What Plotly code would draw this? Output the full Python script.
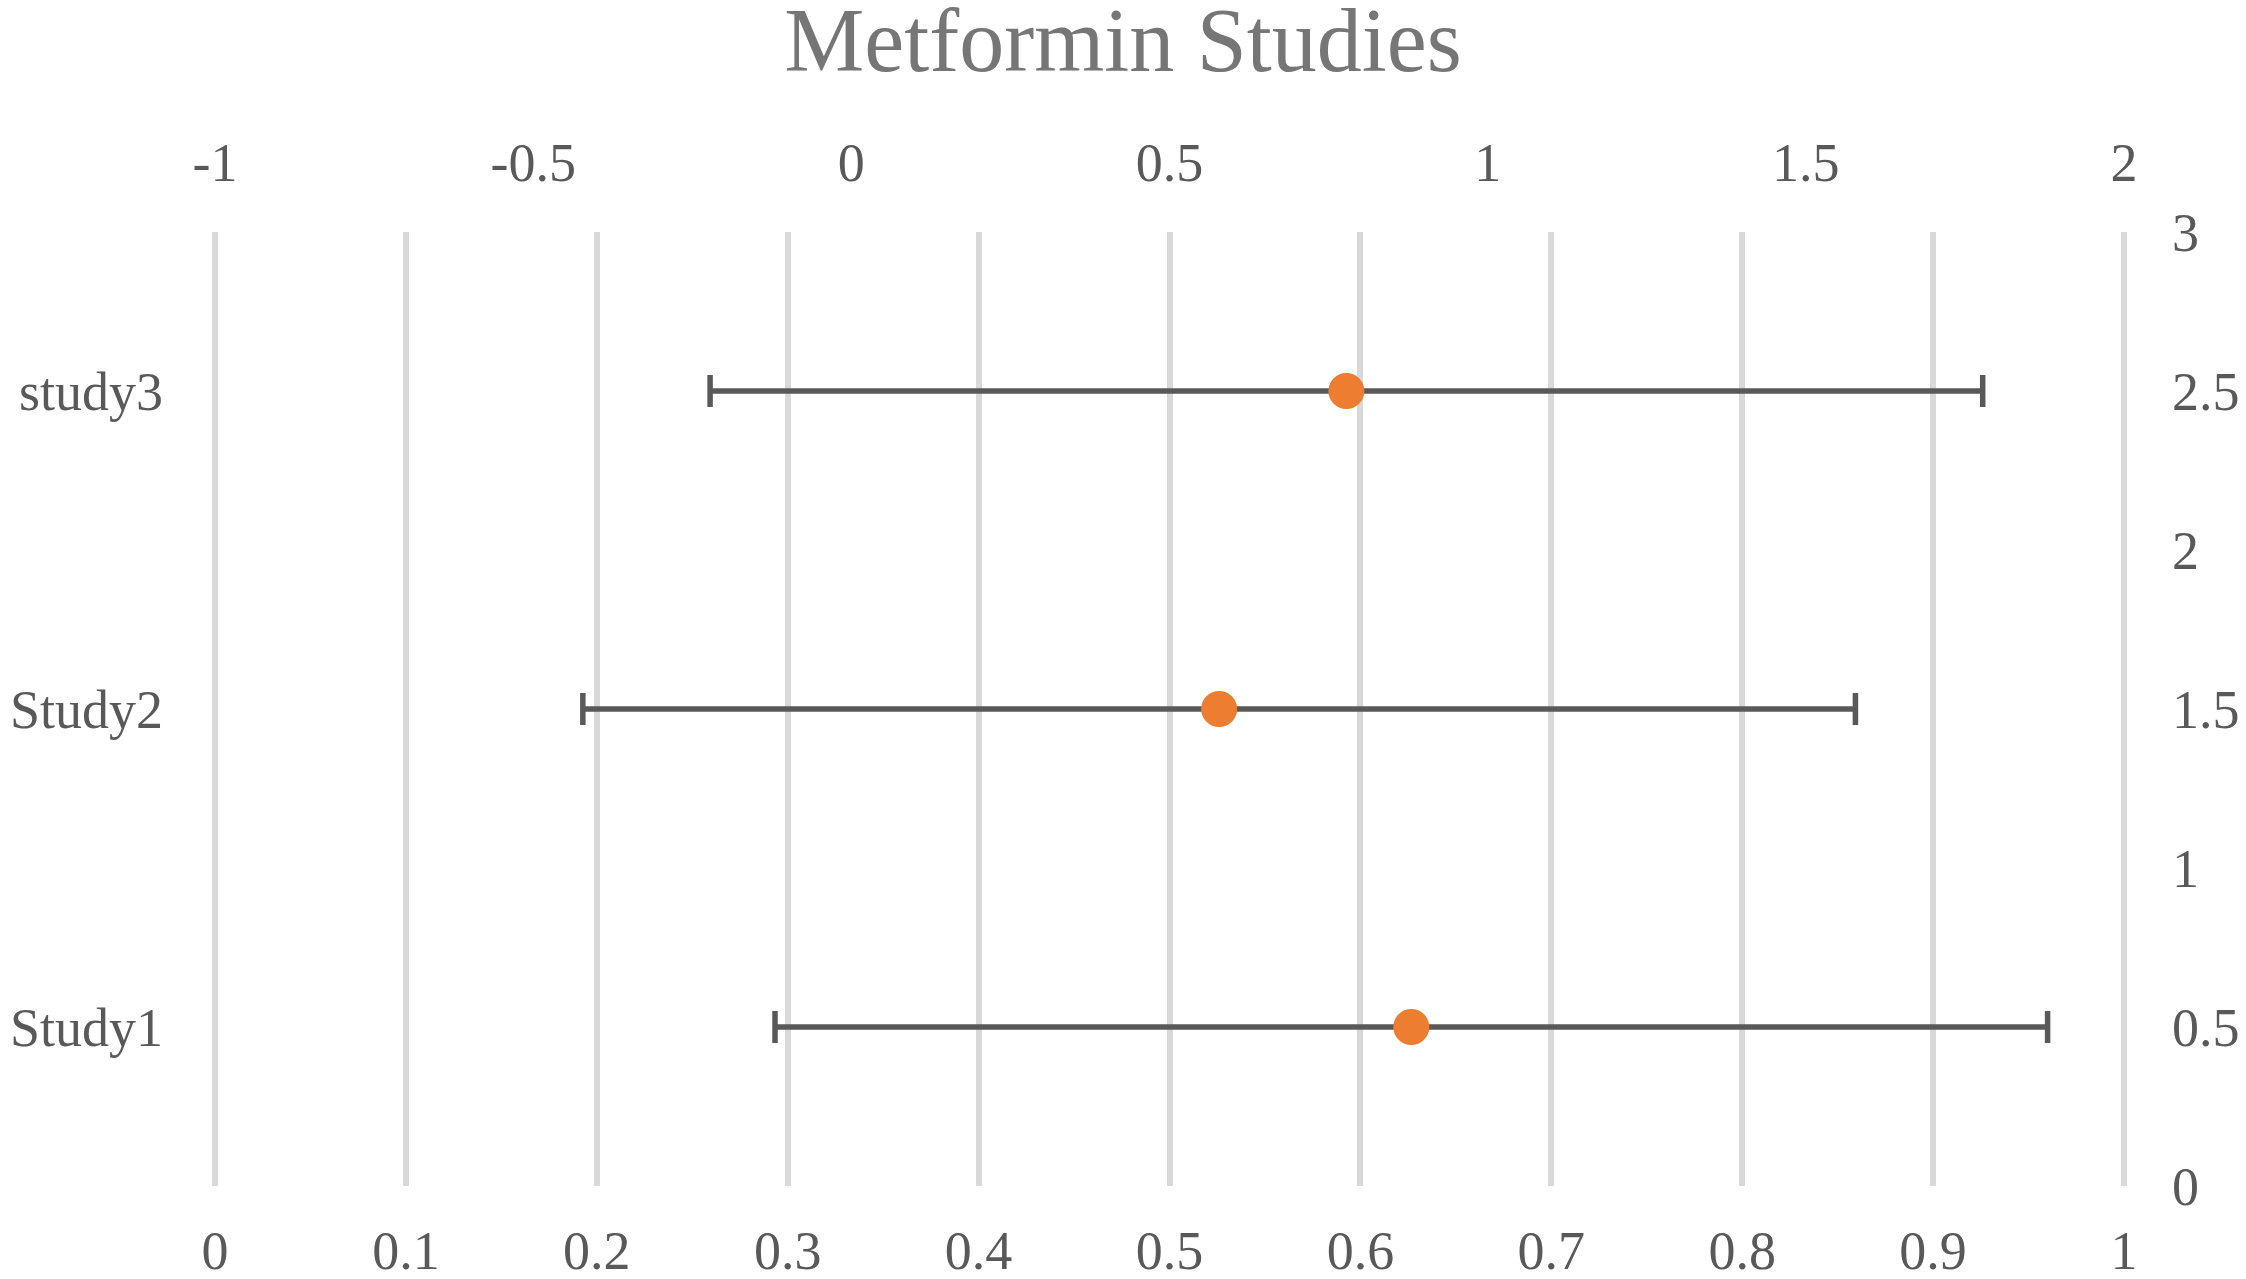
import plotly.graph_objects as go

# ---------- data ----------
studies = ["Study1", "Study2", "study3"]
study_pos = [0.5, 1.5, 2.5]          # position on the 0-3 value axis
effect = [0.88, 0.578, 0.778]        # point estimate (top axis, -1 .. 2)
err = [1, 1, 1]                      # fixed error amount

bottom_ticks = [0, 0.1, 0.2, 0.3, 0.4, 0.5, 0.6, 0.7, 0.8, 0.9, 1]
top_ticks = [-1, -0.5, 0, 0.5, 1, 1.5, 2]
right_ticks = [0, 0.5, 1, 1.5, 2, 2.5, 3]

FONT = "Liberation Serif"
TXT = "#595959"
GRID = "#d9d9d9"

# tiny padding so plotly keeps the gridlines at 0 and 1 (it drops grid at the very edge)
PAD = 0.0016

fig = go.Figure()

# helper trace on the main subplot so the bottom grid and left labels get drawn
fig.add_trace(go.Scatter(
    x=bottom_ticks,
    y=[0] * len(bottom_ticks),
    xaxis="x",
    yaxis="y",
    mode="markers",
    marker=dict(opacity=0),
    showlegend=False,
    hoverinfo="skip",
))

# estimates with fixed error bars (top axis / right axis)
fig.add_trace(go.Scatter(
    x=effect,
    y=study_pos,
    xaxis="x2",
    yaxis="y2",
    mode="markers",
    marker=dict(color="#ed7d31", size=36),
    error_x=dict(type="data", array=err, symmetric=True,
                 color="#595959", thickness=5.5, width=16),
    showlegend=False,
    hoverinfo="x+y",
))

fig.update_layout(
    width=2246,
    height=1279,
    margin=dict(l=212, r=119, t=232, b=93),
    paper_bgcolor="white",
    plot_bgcolor="white",
    font=dict(family=FONT, size=54, color=TXT),
    title=dict(text="Metformin Studies", x=0.5, xanchor="center",
               y=0.9695, yanchor="middle", yref="container",
               font=dict(family=FONT, size=90, color="#767676")),
    xaxis=dict(range=[0 - PAD, 1 + PAD], tickvals=bottom_ticks,
               ticktext=[f"{v:g}" for v in bottom_ticks],
               showgrid=True, gridcolor=GRID, gridwidth=6,
               zeroline=False, showline=False, ticks="",
               automargin=False, ticklabelstandoff=28),
    xaxis2=dict(range=[-1 - 3 * PAD, 2 + 3 * PAD], tickvals=top_ticks,
                ticktext=[f"{v:g}" for v in top_ticks],
                overlaying="x", side="top", showgrid=False,
                zeroline=False, showline=False, ticks="",
                automargin=False, ticklabelstandoff=39),
    yaxis=dict(range=[0, 3], tickvals=study_pos, ticktext=studies,
               showgrid=False, zeroline=False, showline=False, ticks="",
               automargin=False, ticklabelstandoff=48),
    yaxis2=dict(range=[0, 3], tickvals=right_ticks,
                ticktext=[f"{v:g}" for v in right_ticks],
                overlaying="y", side="right", showgrid=False,
                zeroline=False, showline=False, ticks="",
                automargin=False, ticklabelstandoff=44),
)

# drop the default page margin so the 2246x1279 figure fills the window exactly
fig.write_html("out.html",
               config={"displayModeBar": False},
               post_script="document.body.style.margin='0';"
                           "document.body.style.overflow='hidden';")
